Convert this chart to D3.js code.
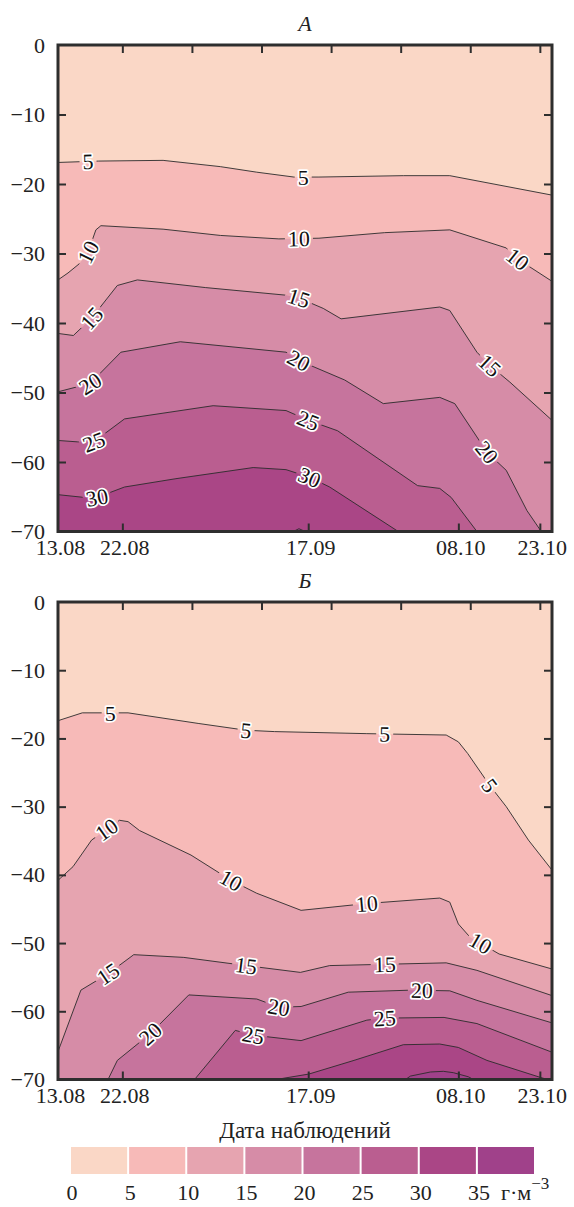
<!DOCTYPE html>
<html>
<head>
<meta charset="utf-8">
<script src="https://cdn.jsdelivr.net/npm/d3@7"></script>
<style>
  body { margin: 0; background: #fff; }
  svg { display: block; }
  svg text { font-family: "Liberation Serif", "DejaVu Serif", serif !important; fill: #222; }
</style>
</head>
<body>
<svg id="chart" width="574" height="1207" font-family="Liberation Serif"></svg>
<script>
// ---- observation axis: days since 13 Aug, with survey dates as labels ----
const dateLabels = ["13.08", "22.08", "17.09", "08.10", "23.10"];
const dateDays   = [0, 9, 35, 56, 67.4];
const dayMax     = 69.1;
const depthTicks = [0, -10, -20, -30, -40, -50, -60, -70];

// ---- concentration classes, g·m^-3 ----
const classBreaks = [0, 5, 10, 15, 20, 25, 30, 35, 40];
const classColors = ["#FAD7C6", "#F7BAB8", "#E6A4B0", "#D68CA7", "#C6749D", "#BA5E90", "#AA4686", "#A0418A"];
const isoLevels   = [5, 10, 15, 20, 25, 30, 35];

// ---- section A: isoline depths, [day, depth m] ----
const isoA5  = [[0,-16.9],[5.7,-16.7],[14.7,-16.6],[22.7,-17.5],[27.8,-18.3],[33.0,-19.0],[36.5,-19.0],[48.3,-18.8],[54.8,-18.8],[69.1,-21.6]];
const isoA10 = [[0,-33.8],[1.4,-32.8],[2.95,-31.5],[4.2,-29.8],[5.3,-26.6],[6.0,-26.0],[14.7,-26.5],[22.7,-27.4],[30.9,-27.9],[36.5,-27.8],[45.7,-27.0],[54.8,-26.6],[62.7,-29.2],[64.0,-30.6],[69.1,-34.0]];
const isoA15 = [[0,-41.5],[2.15,-41.8],[4.7,-39.3],[8.3,-34.6],[11.1,-33.8],[20.6,-34.9],[31.9,-36.0],[33.7,-36.4],[37.1,-37.9],[39.6,-39.4],[53.4,-37.7],[54.8,-38.2],[58.6,-44.2],[60.4,-46.1],[63.2,-48.5],[69.1,-54.0]];
const isoA20 = [[0,-49.9],[4.5,-48.7],[8.8,-44.2],[17.1,-42.7],[31.9,-44.2],[33.7,-45.4],[40.1,-48.2],[45.5,-51.6],[53.4,-50.7],[55.5,-51.6],[58.6,-56.4],[60.0,-58.6],[62.7,-61.2],[65.6,-67.0],[67.6,-70]];
const isoA25 = [[0,-56.9],[2.7,-57.1],[5.0,-57.1],[9.3,-53.8],[21.7,-51.9],[31.9,-52.6],[35.0,-54.0],[39.1,-55.5],[50.3,-63.4],[53.4,-63.8],[55.0,-65.1],[58.6,-70]];
const isoA30 = [[0,-64.7],[3.7,-65.1],[5.45,-65.1],[9.3,-63.6],[16.5,-62.4],[27.3,-60.8],[31.9,-61.1],[35.2,-62.2],[38.0,-63.6],[47.6,-70]];
const isoA35 = [[32.9,-70],[33.7,-69.6],[34.6,-70]];
// label positions on section A: [level, day]
const labelsA = [[5,4.2],[5,34.3],[10,4.2],[10,33.7],[10,64.3],[15,4.7],[15,33.7],[15,60.4],
                 [20,4.5],[20,33.7],[20,60.0],[25,5.0],[25,35.0],[30,5.45],[30,35.2]];

// ---- section Б ----
const isoB5  = [[0,-17.4],[3.4,-16.25],[9.8,-16.25],[19.6,-17.8],[26.3,-18.8],[30.3,-19.0],[43.2,-19.3],[54.3,-19.5],[56.0,-20.5],[57.3,-22.2],[60.4,-26.9],[62.7,-30.0],[65.8,-34.9],[69.1,-39.3]];
const isoB10 = [[0,-40.8],[2.1,-38.8],[4.7,-34.9],[8.6,-32.0],[9.8,-32.2],[11.4,-33.5],[18.6,-37.1],[24.2,-40.8],[27.8,-42.7],[34.0,-45.2],[43.2,-44.2],[53.4,-43.4],[54.8,-44.0],[56.0,-47.2],[57.6,-49.1],[61.7,-51.6],[69.1,-53.8]];
const isoB15 = [[0,-65.9],[3.2,-56.9],[7.0,-54.5],[10.6,-51.7],[17.6,-52.1],[26.3,-53.3],[33.9,-54.3],[38.0,-53.3],[54.3,-52.9],[58.6,-54.0],[69.1,-57.7]];
const isoB20 = [[7.0,-70],[8.3,-67.2],[12.9,-63.3],[18.3,-57.6],[27.8,-58.2],[30.9,-59.4],[34.0,-59.3],[40.6,-57.2],[49.4,-56.9],[54.8,-57.0],[58.6,-58.4],[69.1,-61.7]];
const isoB25 = [[19.1,-70],[24.8,-62.8],[27.3,-63.5],[34.0,-64.3],[43.2,-61.3],[45.7,-61.0],[54.0,-60.9],[58.6,-61.8],[69.1,-66.0]];
const isoB30 = [[30.5,-70],[35.1,-69.2],[41.4,-67.2],[48.3,-64.9],[53.4,-64.8],[56.0,-65.3],[60.0,-67.2],[67.5,-69.7],[68.5,-70]];
const isoB35 = [[48.6,-70],[49.3,-69.5],[52.1,-68.9],[53.9,-68.8],[55.3,-69.0],[57.4,-69.6],[58.1,-70]];
const labelsB = [[5,7.3],[5,26.3],[5,45.7],[5,60.4],[10,6.8],[10,24.2],[10,43.2],[10,59.1],
                 [15,7.0],[15,26.3],[15,45.7],[20,12.9],[20,30.9],[20,50.9],[25,27.3],[25,45.7]];

const panels = [
  { key: "A", title: "A", top: 45,  bottom: 531.5,
    iso: [isoA5, isoA10, isoA15, isoA20, isoA25, isoA30, isoA35], labels: labelsA },
  { key: "B", title: "Б", top: 602, bottom: 1079.5,
    iso: [isoB5, isoB10, isoB15, isoB20, isoB25, isoB30, isoB35], labels: labelsB }
];

const serif = "Liberation Serif";
const plotLeft = 58, plotRight = 552;
const svg = d3.select("#chart");
const defs = svg.append("defs");
const frameColor = "#2e2e2e";
const fmtDepth = d => d === 0 ? "0" : "\u2212" + Math.abs(d);

// depth of a polyline at a given day (polylines run left to right)
function depthAt(pts, day) {
  if (day <= pts[0][0]) return pts[0][1];
  for (let i = 1; i < pts.length; i++) {
    if (day <= pts[i][0]) {
      const [x0, y0] = pts[i - 1], [x1, y1] = pts[i];
      return y0 + (y1 - y0) * (day - x0) / (x1 - x0);
    }
  }
  return pts[pts.length - 1][1];
}

const x = d3.scaleLinear().domain([0, dayMax]).range([plotLeft, plotRight]);
const topTicks = d3.range(7).map(i => dateDays[1] + i * (dateDays[4] - dateDays[1]) / 6);

panels.forEach(p => {
  const y = d3.scaleLinear().domain([0, -70]).range([p.top, p.bottom]);

  defs.append("clipPath").attr("id", "clip-" + p.key)
    .append("rect").attr("x", plotLeft).attr("y", p.top)
    .attr("width", plotRight - plotLeft).attr("height", p.bottom - p.top);

  const g = svg.append("g").attr("clip-path", `url(#clip-${p.key})`);

  // background class (0–5)
  g.append("rect").attr("x", plotLeft).attr("y", p.top)
    .attr("width", plotRight - plotLeft).attr("height", p.bottom - p.top)
    .attr("fill", classColors[0]);

  // each isoline fills everything deeper than it with the next class colour
  const line = d3.line().x(d => x(d[0])).y(d => y(d[1]));
  p.iso.forEach((pts, i) => {
    const first = pts[0], last = pts[pts.length - 1];
    const poly = pts.concat([[last[0], -70], [first[0], -70]]);
    g.append("path").attr("d", line(poly) + "Z").attr("fill", classColors[i + 1]);
  });

  // label placement along the isolines
  const labels = p.labels.map(([lev, day]) => {
    const pts = p.iso[isoLevels.indexOf(lev)];
    const px = x(day), py = y(depthAt(pts, day));
    const d0 = Math.max(pts[0][0], day - 1.2), d1 = Math.min(pts[pts.length - 1][0], day + 1.2);
    const ang = Math.atan2(y(depthAt(pts, d1)) - y(depthAt(pts, d0)), x(d1) - x(d0)) * 180 / Math.PI;
    return { text: String(lev), px, py, ang };
  });

  // isolines are broken where a label sits
  const mask = defs.append("mask").attr("id", "mask-" + p.key)
    .attr("maskUnits", "userSpaceOnUse").attr("x", 0).attr("y", 0)
    .attr("width", 574).attr("height", 1207);
  mask.append("rect").attr("width", 574).attr("height", 1207).attr("fill", "#fff");
  labels.forEach(l => {
    const w = l.text.length * 11 + 6;
    mask.append("rect").attr("x", -w / 2).attr("y", -8).attr("width", w).attr("height", 16)
      .attr("transform", `translate(${l.px},${l.py}) rotate(${l.ang})`).attr("fill", "#000");
  });

  const lineG = g.append("g").attr("mask", `url(#mask-${p.key})`);
  p.iso.forEach(pts => {
    lineG.append("path").attr("d", line(pts)).attr("fill", "none")
      .attr("stroke", "#2b2b2b").attr("stroke-width", 0.9);
  });

  g.selectAll("g.clabel").data(labels).join("g").attr("class", "clabel")
    .attr("transform", l => `translate(${l.px},${l.py}) rotate(${l.ang})`)
    .append("text").attr("text-anchor", "middle").attr("dy", "0.35em")
    .attr("font-family", serif).attr("font-size", 22)
    .attr("stroke", "#fff").attr("stroke-width", 3.5)
    .attr("stroke-linejoin", "round").attr("paint-order", "stroke").style("fill", "#111")
    .text(l => l.text);

  // axes with inward ticks
  const styleAxis = sel => {
    sel.attr("font-family", serif);
    sel.select(".domain").remove();
    sel.selectAll(".tick line").attr("stroke", frameColor).attr("stroke-width", 2);
    sel.selectAll("text").attr("font-size", 22).style("fill", "#222");
  };
  svg.append("g").attr("transform", `translate(${plotLeft},0)`)
    .call(d3.axisLeft(y).tickValues(depthTicks).tickFormat(fmtDepth).tickSizeInner(-8).tickSizeOuter(0).tickPadding(13))
    .call(styleAxis)
    .call(s => s.selectAll(".tick").filter(d => d === 0 || d === -70).select("line").remove());
  svg.append("g").attr("transform", `translate(${plotRight},0)`)
    .call(d3.axisRight(y).tickValues(depthTicks.slice(1, -1)).tickFormat("").tickSizeInner(-8).tickSizeOuter(0))
    .call(styleAxis);
  svg.append("g").attr("transform", `translate(0,${p.top})`)
    .call(d3.axisTop(x).tickValues(topTicks).tickFormat("").tickSizeInner(-8).tickSizeOuter(0))
    .call(styleAxis);
  svg.append("g").attr("transform", `translate(0,${p.bottom})`)
    .call(d3.axisBottom(x).tickValues(dateDays).tickFormat((d, i) => dateLabels[i]).tickSizeInner(-8).tickSizeOuter(0).tickPadding(8))
    .call(styleAxis)
    .call(s => s.selectAll(".tick text").attr("dx", 2))
    .call(s => s.selectAll(".tick").filter(d => d === 0).select("line").remove());

  // frame and panel title
  svg.append("rect").attr("x", plotLeft).attr("y", p.top)
    .attr("width", plotRight - plotLeft).attr("height", p.bottom - p.top)
    .attr("fill", "none").attr("stroke", frameColor).attr("stroke-width", 3);
  svg.append("text").attr("x", (plotLeft + plotRight) / 2).attr("y", p.top - 14)
    .attr("text-anchor", "middle").attr("font-family", serif).attr("font-size", 22)
    .attr("font-style", "italic").text(p.title);
});

// ---- axis caption and colour legend ----
svg.append("text").attr("x", 305).attr("y", 1138).attr("text-anchor", "middle")
  .attr("font-family", serif).attr("font-size", 23).text("Дата наблюдений");

const lx = d3.scaleLinear().domain([0, 40]).range([70, 535]);
const legend = svg.append("g").attr("font-family", serif);
legend.selectAll("rect").data(classColors).join("rect")
  .attr("x", (c, i) => lx(classBreaks[i]) + 1)
  .attr("width", (c, i) => lx(classBreaks[i + 1]) - lx(classBreaks[i]) - 2)
  .attr("y", 1147).attr("height", 27).attr("fill", c => c);
legend.selectAll("text").data(classBreaks.slice(0, -1)).join("text")
  .attr("x", d => lx(d) + 2).attr("y", 1200).attr("text-anchor", "middle")
  .attr("font-size", 22).text(d => d);
const unit = legend.append("text").attr("x", 501).attr("y", 1200).attr("font-size", 22);
unit.append("tspan").text("г·м");
unit.append("tspan").attr("dy", -11).attr("font-size", 17).text("\u22123");
</script>
</body>
</html>
